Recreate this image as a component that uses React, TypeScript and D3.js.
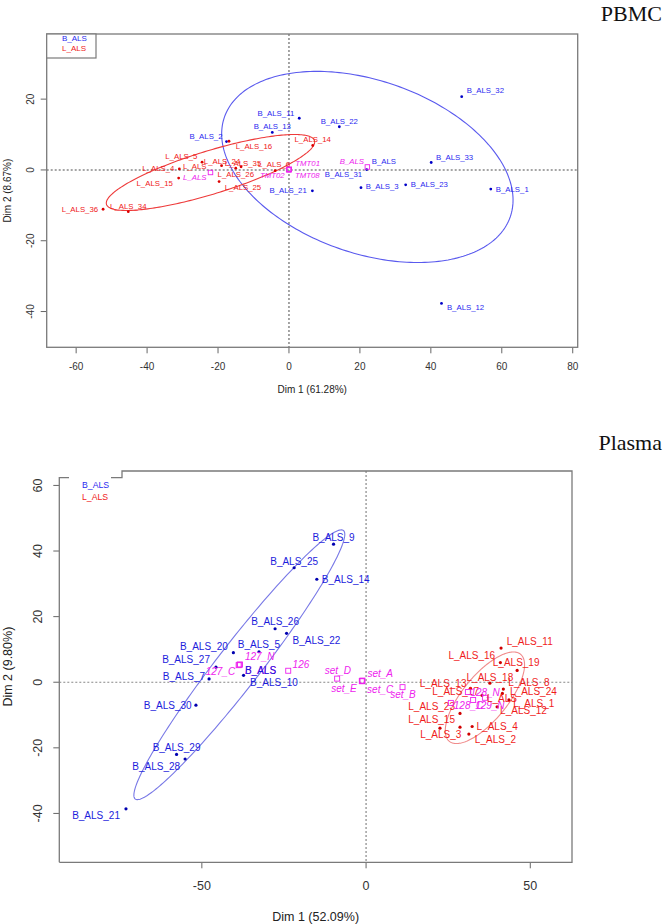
import React from 'react';
import * as d3 from 'd3';

type Pt = [string, number, number];
type Place = [string, number, number];

// ---------- PBMC data ----------
const pbmcB: Pt[] = [
  ['B_ALS_32', 48.7, 20.7],
  ['B_ALS_11', 2.9, 14.6],
  ['B_ALS_22', 14.2, 12.2],
  ['B_ALS_13', -4.7, 10.6],
  ['B_ALS_2', -17.6, 8.0],
  ['B_ALS_33', 40.1, 2.1],
  ['B_ALS_31', 21.9, 0.1],
  ['B_ALS_3', 20.3, -5.0],
  ['B_ALS_23', 32.9, -4.2],
  ['B_ALS_1', 56.9, -5.4],
  ['B_ALS_21', 6.6, -5.9],
  ['B_ALS_12', 43.0, -37.7],
];
const pbmcL: Pt[] = [
  ['L_ALS_14', 6.7, 6.9],
  ['L_ALS_16', -16.9, 8.1],
  ['L_ALS_5', -24.5, 2.2],
  ['L_ALS_24', -19.0, 1.2],
  ['L_ALS_35', -13.5, 0.9],
  ['L_ALS_26', -15.0, 0.5],
  ['L_ALS_25', -19.7, -3.3],
  ['L_ALS_6', -3.9, -0.2],
  ['L_ALS_4', -30.9, 0.3],
  ['L_ALS_15', -31.1, -2.3],
  ['L_ALS_36', -52.4, -11.1],
  ['L_ALS_34', -45.3, -11.8],
];
const pbmcSupp: Pt[] = [
  ['TMT01', 0.1, 0.2],
  ['TMT02', -0.1, 0.1],
  ['TMT08', 0.0, 0.0],
];
const pbmcXTicks = [-60, -40, -20, 0, 20, 40, 60, 80];
const pbmcYTicks = [20, 0, -20, -40];

// ---------- Plasma data ----------
const plasmaB: Pt[] = [
  ['B_ALS_9', -9.9, 42.1],
  ['B_ALS_25', -21.9, 34.9],
  ['B_ALS_14', -15.0, 31.4],
  ['B_ALS_26', -27.7, 16.3],
  ['B_ALS_22', -24.2, 14.9],
  ['B_ALS_5', -32.6, 9.3],
  ['B_ALS_20', -40.4, 9.0],
  ['B_ALS_27', -45.7, 4.6],
  ['B_ALS_7', -47.8, 1.0],
  ['B_ALS_10', -37.3, 2.1],
  ['B_ALS_30', -51.8, -7.0],
  ['B_ALS_29', -57.7, -22.0],
  ['B_ALS_28', -55.1, -23.4],
  ['B_ALS_21', -73.1, -38.6],
];
const plasmaL: Pt[] = [
  ['L_ALS_11', 41.1, 10.4],
  ['L_ALS_16', 40.9, 6.0],
  ['L_ALS_19', 46.0, 3.6],
  ['L_ALS_18', 37.7, -0.3],
  ['L_ALS_13', 31.8, -1.9],
  ['L_ALS_17', 35.3, -4.0],
  ['L_ALS_8', 41.8, -2.1],
  ['L_ALS_24', 41.5, -3.4],
  ['L_ALS_1', 43.5, -5.4],
  ['L_ALS_12', 39.9, -7.5],
  ['L_ALS_23', 28.6, -9.5],
  ['L_ALS_15', 28.6, -13.7],
  ['L_ALS_3', 22.5, -14.0],
  ['L_ALS_4', 32.3, -13.5],
  ['L_ALS_2', 31.3, -15.8],
];
const plasmaSupp: Pt[] = [
  ['127_N', -38.4, 5.4],
  ['127_C', -38.8, 5.2],
  ['126', -23.7, 3.5],
  ['set_D', -8.8, 1.1],
  ['set_E', -1.3, 0.4],
  ['set_A', -1.1, 0.5],
  ['set_C', -1.2, 0.3],
  ['set_B', 11.1, -1.5],
  ['128_N', 31.0, -3.0],
  ['128_C', 25.8, -6.3],
  ['129_N', 32.6, -5.4],
];
const plasmaXTicks = [-50, 0, 50];
const plasmaYTicks = [60, 40, 20, 0, -20, -40];

const groupNames = ['B_ALS', 'L_ALS'];

// ---------- label placement (layout, px) ----------
const pbmcPlace: Record<string, Place> = {
  B_ALS_32: ['start', 5, -5.7],
  B_ALS_11: ['end', -5, -5],
  B_ALS_22: ['middle', 0, -5.7],
  B_ALS_13: ['middle', 0, -5.6],
  B_ALS_2: ['end', -4, -5],
  B_ALS_33: ['start', 4.7, -5.4],
  B_ALS_31: ['end', -4.5, 4.8],
  B_ALS_3: ['start', 4.7, -0.7],
  B_ALS_23: ['start', 5, 0],
  B_ALS_1: ['start', 5, 0],
  B_ALS_21: ['end', -5.6, 0],
  B_ALS_12: ['start', 5.4, 4.4],
  L_ALS_14: ['middle', 0, -5.7],
  L_ALS_16: ['start', 6.7, 5.7],
  L_ALS_5: ['end', -4.7, -5.6],
  L_ALS_24: ['middle', 0.5, -4.6],
  L_ALS_35: ['middle', 2, -3.4],
  L_ALS_26: ['middle', 0, 5.9],
  L_ALS_25: ['start', 5.7, 5.6],
  L_ALS_6: ['middle', -1, -5.7],
  L_ALS_4: ['end', -5, -0.7],
  L_ALS_15: ['end', -5.7, 5],
  L_ALS_36: ['end', -5, 0],
  L_ALS_34: ['middle', 0, -5],
  'B_ALS': ['start', 4.4, -5.4],
  'B_ALS*': ['end', -3.3, -5.4],
  'L_ALS': ['end', -4, -6],
  'L_ALS*': ['end', -4, 5],
  TMT01: ['start', 6, -5.3],
  TMT02: ['end', -4, 5.7],
  TMT08: ['start', 6, 5.7],
};
const plasmaPlace: Record<string, Place> = {
  B_ALS_9: ['middle', 0, -7],
  B_ALS_25: ['middle', 0, -6.7],
  B_ALS_14: ['start', 5, 0],
  B_ALS_26: ['middle', 0, -7],
  B_ALS_22: ['start', 6, 7.4],
  B_ALS_5: ['middle', 0, -7.7],
  B_ALS_20: ['end', -5.6, -6.7],
  B_ALS_27: ['end', -6, -7.3],
  B_ALS_7: ['end', -4, -2.3],
  B_ALS_10: ['start', 6.5, 7.2],
  B_ALS_30: ['end', -4.3, 0.4],
  B_ALS_29: ['middle', 0, -6.6],
  B_ALS_28: ['end', -5, 7.7],
  B_ALS_21: ['end', -6, 7],
  L_ALS_11: ['start', 5.7, -6.6],
  L_ALS_16: ['end', -5.3, -7],
  L_ALS_19: ['middle', -1, -7.8],
  L_ALS_18: ['middle', 0, -6],
  L_ALS_13: ['end', -4, -5],
  L_ALS_17: ['end', -3, -3.8],
  L_ALS_8: ['start', 5, -6.6],
  L_ALS_24: ['start', 7.7, -1.6],
  L_ALS_1: ['start', 4.3, 3.3],
  L_ALS_12: ['start', 3, 3.7],
  L_ALS_23: ['end', -5, -7.3],
  L_ALS_15: ['end', -5, -7.3],
  L_ALS_3: ['middle', 0.8, 6.7],
  L_ALS_4: ['start', 4.4, 0],
  L_ALS_2: ['start', 6, 5.3],
  'B_ALS': ['start', 5.6, 6],
  'B_ALS*': ['start', 5.6, 6],
  'L_ALS': ['start', 2, 0.5],
  '127_N': ['start', 5, -8],
  '127_C': ['end', -3.5, 6],
  '126': ['start', 4.4, -6.4],
  set_D: ['middle', 0.7, -8],
  set_E: ['end', -5, 8],
  set_A: ['start', 5, -6.7],
  set_C: ['start', 5, 8],
  set_B: ['middle', 0.5, 7],
  '128_N': ['start', 2.5, 0],
  '128_C': ['start', 3, 3],
  '129_N': ['start', 2, 6],
};

const SANS = 'Liberation Sans, Arial, sans-serif';
const SERIF = 'Liberation Serif, Times New Roman, serif';
const CHI2_80 = 3.219;

function ellipsePath(pts: Pt[], xs: any, ys: any): string {
  const n = pts.length;
  const mx = d3.mean(pts, (p) => p[1]) as number;
  const my = d3.mean(pts, (p) => p[2]) as number;
  let sxx = 0, syy = 0, sxy = 0;
  pts.forEach((p) => {
    const dx = p[1] - mx, dy = p[2] - my;
    sxx += dx * dx; syy += dy * dy; sxy += dx * dy;
  });
  sxx /= n - 1; syy /= n - 1; sxy /= n - 1;
  const tr = (sxx + syy) / 2;
  const dd = Math.sqrt(((sxx - syy) / 2) ** 2 + sxy ** 2);
  const l1 = tr + dd, l2 = Math.max(tr - dd, 0);
  const th = 0.5 * Math.atan2(2 * sxy, sxx - syy);
  const a = Math.sqrt(CHI2_80 * l1), b = Math.sqrt(CHI2_80 * l2);
  const ts = d3.range(0, 2 * Math.PI, Math.PI / 120);
  const poly = ts.map((t) => [
    xs(mx + a * Math.cos(t) * Math.cos(th) - b * Math.sin(t) * Math.sin(th)),
    ys(my + a * Math.cos(t) * Math.sin(th) + b * Math.sin(t) * Math.cos(th)),
  ] as [number, number]);
  return d3.line().curve(d3.curveLinearClosed)(poly) || '';
}

interface GroupStyle {
  pts: Pt[];
  name: string;
  dot: string;
  label: string;
  ellipse: string;
  suppLabel: boolean;
}

interface PanelProps {
  box: { l: number; r: number; t: number; b: number };
  xDomain: [number, number];
  yDomain: [number, number];
  xTicks: number[];
  yTicks: number[];
  groups: GroupStyle[];
  supp: Pt[];
  place: Record<string, Place>;
  labelSize: number;
  tickSize: number;
  dotR: number;
  sq: number;
  yTickLabelX: number;
  xTickLabelY: number;
  xTitle: string;
  yTitle: string;
  titleSize: number;
  xTitleY: number;
  yTitleX: number;
  dashW: number;
}

const MAG = '#ee22ee';

function Label({ name, x, y, place, color, size, italic }: any) {
  const p: Place = place[name];
  if (!p) return null;
  return (
    <text x={x + p[1]} y={y + p[2]} textAnchor={p[0]} dominantBaseline="central"
      fontSize={size} fill={color} fontStyle={italic ? 'italic' : 'normal'} fontFamily={SANS}>
      {name.replace('*', '')}
    </text>
  );
}

function Panel(props: PanelProps) {
  const { box, xDomain, yDomain, place } = props;
  const xs = d3.scaleLinear().domain(xDomain).range([box.l, box.r]);
  const ys = d3.scaleLinear().domain(yDomain).range([box.b, box.t]);
  const x0 = xs(0), y0 = ys(0);
  return (
    <g>
      {/* zero lines */}
      <line x1={box.l} x2={box.r} y1={y0} y2={y0} stroke="#888" strokeWidth={props.dashW} strokeDasharray="2,2" />
      <line x1={x0} x2={x0} y1={box.t} y2={box.b} stroke="#888" strokeWidth={props.dashW} strokeDasharray="2,2" />
      {/* x ticks */}
      {props.xTicks.map((t) => (
        <g key={'xt' + t}>
          <line x1={xs(t)} x2={xs(t)} y1={box.b} y2={box.b + 6} stroke="#666" strokeWidth={1} />
          <text x={xs(t)} y={props.xTickLabelY} textAnchor="middle" dominantBaseline="central"
            fontSize={props.tickSize} fill="#333" fontFamily={SANS}>{t}</text>
        </g>
      ))}
      {props.yTicks.map((t) => (
        <g key={'yt' + t}>
          <line x1={box.l - 6} x2={box.l} y1={ys(t)} y2={ys(t)} stroke="#666" strokeWidth={1} />
          <text transform={`translate(${props.yTickLabelX},${ys(t)}) rotate(-90)`} textAnchor="middle"
            dominantBaseline="central" fontSize={props.tickSize} fill="#333" fontFamily={SANS}>{t}</text>
        </g>
      ))}
      <text x={(box.l + box.r) / 2} y={props.xTitleY} textAnchor="middle" dominantBaseline="central"
        fontSize={props.titleSize} fill="#222" fontFamily={SANS}>{props.xTitle}</text>
      <text transform={`translate(${props.yTitleX},${(box.t + box.b) / 2}) rotate(-90)`} textAnchor="middle"
        dominantBaseline="central" fontSize={props.titleSize} fill="#222" fontFamily={SANS}>{props.yTitle}</text>
      {/* ellipses */}
      {props.groups.map((g) => (
        <path key={'el' + g.name} d={ellipsePath(g.pts, xs, ys)} fill="none" stroke={g.ellipse} strokeWidth={1.1} />
      ))}
      {/* points */}
      {props.groups.map((g) => (
        <g key={'pts' + g.name}>
          {g.pts.map((p) => (
            <g key={p[0]}>
              <circle cx={xs(p[1])} cy={ys(p[2])} r={props.dotR} fill={g.dot} />
              <Label name={p[0]} x={xs(p[1])} y={ys(p[2])} place={place} color={g.label} size={props.labelSize} />
            </g>
          ))}
        </g>
      ))}
      {/* supplementary categories */}
      {props.supp.map((p) => (
        <g key={'s' + p[0]}>
          <rect x={xs(p[1]) - props.sq / 2} y={ys(p[2]) - props.sq / 2} width={props.sq} height={props.sq}
            fill="none" stroke={MAG} strokeWidth={0.9} />
          <Label name={p[0]} x={xs(p[1])} y={ys(p[2])} place={place} color={MAG} size={props.labelSize} italic />
        </g>
      ))}
      {/* group means */}
      {props.groups.map((g) => {
        const mx = xs(d3.mean(g.pts, (p) => p[1]) as number);
        const my = ys(d3.mean(g.pts, (p) => p[2]) as number);
        return (
          <g key={'m' + g.name}>
            <rect x={mx - props.sq / 2} y={my - props.sq / 2} width={props.sq} height={props.sq}
              fill="none" stroke={MAG} strokeWidth={0.9} />
            {g.suppLabel && <Label name={g.name + '*'} x={mx} y={my} place={place} color={MAG} size={props.labelSize} italic />}
            <Label name={g.name} x={mx} y={my} place={place} color={g.label} size={props.labelSize} />
          </g>
        );
      })}
    </g>
  );
}

export default function App() {
  const topBox = { l: 46.7, r: 577.7, t: 34, b: 347.3 };
  const botBox = { l: 59.3, r: 572, t: 471, b: 862.3 };
  return (
    <svg width={664} height={924} style={{ position: 'absolute', left: 0, top: 0, background: '#fff' }}>
      <rect x={0} y={0} width={664} height={924} fill="#fff" />
      {/* PBMC */}
      <text x={662} y={21} textAnchor="end" fontSize={22} fontFamily={SERIF} fill="#111">PBMC</text>
      <Panel
        box={topBox}
        xDomain={[-68.3, 81.4]}
        yDomain={[-50.1, 38.4]}
        xTicks={pbmcXTicks}
        yTicks={pbmcYTicks}
        groups={[
          { pts: pbmcB, name: groupNames[0], dot: '#0000c8', label: '#2a2af0', ellipse: '#5a5aee', suppLabel: true },
          { pts: pbmcL, name: groupNames[1], dot: '#dd0000', label: '#f02020', ellipse: '#ee3a3a', suppLabel: true },
        ]}
        supp={pbmcSupp}
        place={pbmcPlace}
        labelSize={7.8}
        tickSize={10}
        dotR={1.4}
        sq={4.5}
        yTickLabelX={30}
        xTickLabelY={366}
        xTitle="Dim 1 (61.28%)"
        yTitle="Dim 2 (8.67%)"
        titleSize={10}
        xTitleY={389}
        yTitleX={7}
        dashW={1.5}
      />
      <rect x={topBox.l} y={topBox.t} width={topBox.r - topBox.l} height={topBox.b - topBox.t}
        fill="none" stroke="#7a7a7a" strokeWidth={1.3} />
      <rect x={46.7} y={34} width={49.3} height={24} fill="#fff" stroke="#7a7a7a" strokeWidth={1.2} />
      <text x={62} y={38} dominantBaseline="central" fontSize={8} fill="#2a2af0" fontFamily={SANS}>{groupNames[0]}</text>
      <text x={62} y={48.5} dominantBaseline="central" fontSize={8} fill="#f02020" fontFamily={SANS}>{groupNames[1]}</text>

      {/* Plasma */}
      <text x={662} y={450} textAnchor="end" fontSize={22} fontFamily={SERIF} fill="#111">Plasma</text>
      <Panel
        box={botBox}
        xDomain={[-93.4, 62.7]}
        yDomain={[-54.9, 64.4]}
        xTicks={plasmaXTicks}
        yTicks={plasmaYTicks}
        groups={[
          { pts: plasmaB, name: groupNames[0], dot: '#0000b0', label: '#1c1cdc', ellipse: '#7878e6', suppLabel: true },
          { pts: plasmaL, name: groupNames[1], dot: '#d00000', label: '#f01c1c', ellipse: '#f08c8c', suppLabel: false },
        ]}
        supp={plasmaSupp}
        place={plasmaPlace}
        labelSize={10}
        tickSize={12.5}
        dotR={1.6}
        sq={5}
        yTickLabelX={38}
        xTickLabelY={886}
        xTitle="Dim 1 (52.09%)"
        yTitle="Dim 2 (9.80%)"
        titleSize={12.5}
        xTitleY={916.5}
        yTitleX={8}
        dashW={1.2}
      />
      <path d={`M${botBox.l},${botBox.b} L${botBox.r},${botBox.b} L${botBox.r},${botBox.t} L122,${botBox.t} L122,477.7 L111,477.7`}
        fill="none" stroke="#7a7a7a" strokeWidth={1.3} />
      <path d={`M69,477.7 L${botBox.l},477.7 L${botBox.l},${botBox.b}`} fill="none" stroke="#7a7a7a" strokeWidth={1.3} />
      <text x={82} y={485} dominantBaseline="central" fontSize={8.7} fill="#2a2af0" fontFamily={SANS}>{groupNames[0]}</text>
      <text x={82} y={496.7} dominantBaseline="central" fontSize={8.7} fill="#f02020" fontFamily={SANS}>{groupNames[1]}</text>
    </svg>
  );
}
